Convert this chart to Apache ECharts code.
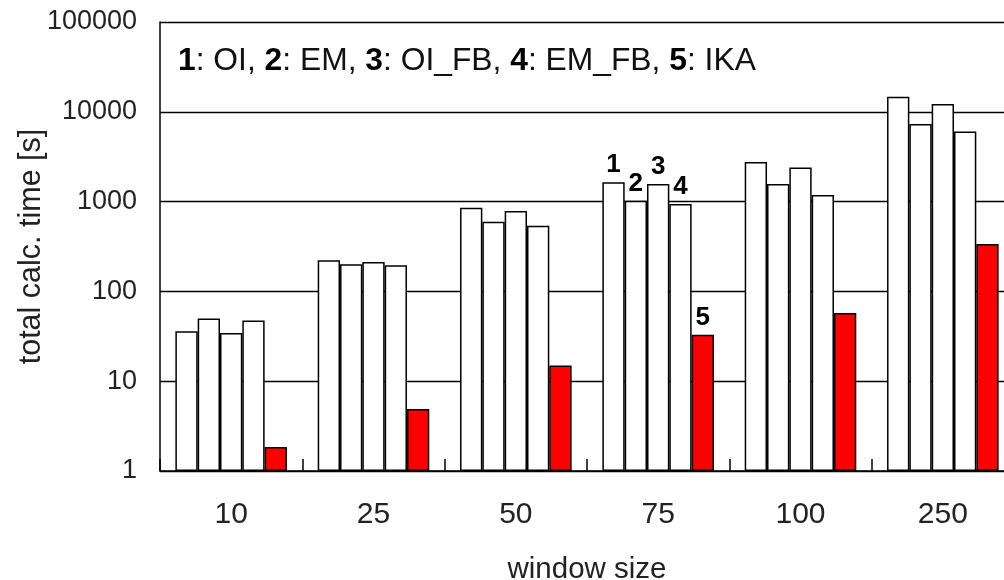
<!DOCTYPE html>
<html>
<head>
<meta charset="utf-8">
<script src="https://cdn.jsdelivr.net/npm/echarts@6/dist/echarts.min.js"></script>
<style>
html,body{margin:0;padding:0;background:#fff;}
#chart{width:1004px;height:580px;}
</style>
</head>
<body>
<div id="chart"></div>
<script>
// ---- data ----
const categories = ['10', '25', '50', '75', '100', '250'];
const seriesNames = ['OI', 'EM', 'OI_FB', 'EM_FB', 'IKA'];
const seriesNumbers = ['1', '2', '3', '4', '5'];
const oi    = [36, 222, 855, 1640, 2760, 14700];
const em    = [50, 201, 597, 1020, 1570, 7330];
const oiFb  = [34.5, 212, 786, 1570, 2390, 12200];
const emFb  = [47.5, 196, 539, 940, 1185, 6020];
const ika   = [1.85, 4.9, 15, 32.8, 57.3, 337];
const yTickLabels = ['1', '10', '100', '1000', '10000', '100000'];
const labeledCategory = '75';
const xAxisTitle = 'window size';
const yAxisTitle = 'total calc. time [s]';

const FONT = '"Liberation Sans", Arial, Helvetica, sans-serif';
const allValues = [oi, em, oiFb, emFb, ika];
const fills = ['#ffffff', '#ffffff', '#ffffff', '#ffffff', '#ff0000'];

const series = allValues.map((vals, si) => ({
  name: seriesNames[si],
  type: 'bar',
  barGap: '0%',
  barCategoryGap: '21.6%',
  itemStyle: { color: fills[si], borderColor: '#000', borderWidth: 1.5 },
  data: vals.map((v, ci) => categories[ci] === labeledCategory ? {
    value: v,
    label: {
      show: true, position: 'top', distance: 4,
      formatter: seriesNumbers[si],
      fontFamily: FONT, fontWeight: 'bold', fontSize: 26, color: '#000'
    }
  } : v)
}));

const legendText = seriesNames.map((n, i) => '{b|' + seriesNumbers[i] + '}: ' + n).join(', ');

const chart = echarts.init(document.getElementById('chart'), null, { renderer: 'canvas' });
chart.setOption({
  animation: false,
  backgroundColor: '#ffffff',
  grid: { left: 160, right: -10, top: 22, bottom: 109, containLabel: false, outerBoundsMode: 'none' },
  xAxis: {
    type: 'category',
    data: categories,
    name: xAxisTitle,
    nameLocation: 'middle',
    nameGap: 84,
    nameTextStyle: { fontFamily: FONT, fontSize: 29.5, color: '#222' },
    axisLine: { show: true, lineStyle: { color: '#000', width: 1.5 } },
    axisTick: { show: true, inside: true, length: 12, lineStyle: { color: '#000', width: 1.5 } },
    axisLabel: { fontFamily: FONT, fontSize: 30, color: '#222', margin: 29 },
    splitLine: { show: false }
  },
  yAxis: {
    type: 'log',
    logBase: 10,
    min: 1,
    max: 100000,
    name: yAxisTitle,
    nameLocation: 'middle',
    nameGap: 113,
    nameMoveOverlap: false,
    nameTextStyle: { fontFamily: FONT, fontSize: 30.5, color: '#222' },
    axisLine: { show: true, lineStyle: { color: '#000', width: 1.5 } },
    axisTick: { show: false },
    axisLabel: {
      fontFamily: FONT, fontSize: 27, color: '#222', margin: 23,
      formatter: v => yTickLabels[Math.round(Math.log10(v))]
    },
    splitLine: { show: true, lineStyle: { color: '#000', width: 1.4 } }
  },
  graphic: [{
    type: 'text',
    left: 178,
    top: 45,
    style: {
      text: legendText,
      fontFamily: FONT,
      fontSize: 31.8,
      fill: '#111',
      rich: { b: { fontFamily: FONT, fontSize: 31.8, fontWeight: 'bold', fill: '#000' } }
    }
  }],
  series: series
});
</script>
</body>
</html>
